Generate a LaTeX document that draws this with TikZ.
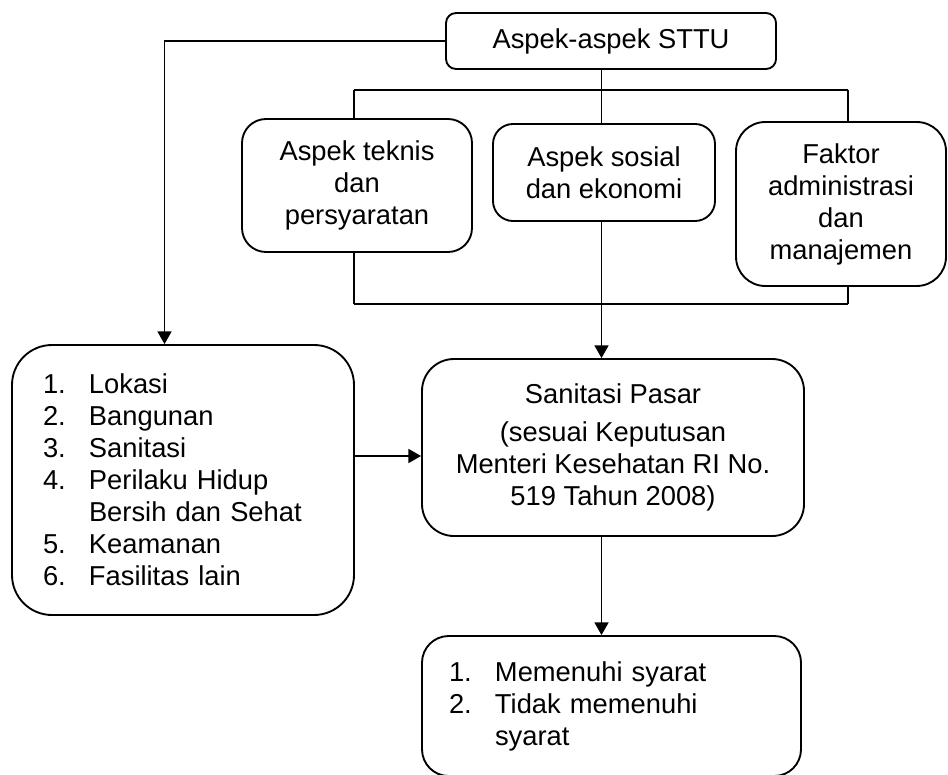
\documentclass[tikz,border=0pt]{standalone}
\usepackage{fontspec}
\setmainfont{Liberation Sans}
\usetikzlibrary{arrows.meta}
\newcommand\nomor[1]{\makebox[34.5pt][l]{#1}}
\begin{document}
\begin{tikzpicture}[x=0.75pt,y=-0.75pt,line cap=butt,line join=miter,
		font=\fontsize{20.5pt}{24pt}\selectfont]
			\tikzset{kotak/.style={draw,line width=1.4pt,rounded corners=#1,inner sep=0pt},
				kotak/.default=18pt,
				garis/.style={line width=1.1pt},
				panahan/.style={garis,-{Triangle[length=9.5pt,width=10.5pt]}}}
			\useasboundingbox (0,0) rectangle (948,774);
			\node[kotak=7.5pt,minimum width=247.5pt,minimum height=42pt] (sttu) at (611,41) {Aspek-aspek STTU};
			\node[kotak,minimum width=172.5pt,minimum height=99.75pt,align=center] (teknis) at (357,185.5) {Aspek teknis\\dan\\persyaratan};
			\node[kotak=15pt,minimum width=166.5pt,minimum height=72.75pt,align=center] (sosial) at (604,172.5) {Aspek sosial\\dan ekonomi};
			\node[kotak=22pt,minimum width=157.5pt,minimum height=123pt,align=center] (faktor) at (841,204) {Faktor\\administrasi\\dan\\manajemen};
			\node[kotak=30pt,minimum height=202.5pt,text width=210pt,inner xsep=23.25pt,align=left] (daftar) at (183,480)
				{\nomor{1.}Lokasi\\\nomor{2.}Bangunan\\\nomor{3.}Sanitasi\\\nomor{4.}Perilaku Hidup\\\nomor{}Bersih dan Sehat\\\nomor{5.}Keamanan\\\nomor{6.}Fasilitas lain};
			\node[kotak=24pt,minimum width=286.5pt,minimum height=132.75pt,align=center] (sanitasi) at (613,447.5)
				{Sanitasi Pasar\\[4.5pt](sesuai Keputusan\\Menteri Kesehatan RI No.\\519 Tahun 2008)};
			\node[kotak=20pt,minimum height=105pt,text width=243.75pt,inner xsep=20.25pt,align=left] (hasil) at (611.5,706)
				{\nomor{1.}Memenuhi syarat\\\nomor{2.}Tidak memenuhi\\\nomor{}syarat};
			\coordinate (tengah) at (601.5,0);
			\coordinate (pojok) at (164.5,0);
			\coordinate (panah) at (0,456);
			\coordinate (busA) at (354,90);
			\coordinate (busB) at (848,90);
			\coordinate (busC) at (354,304);
			\coordinate (busD) at (848,304);
			\draw[panahan] (sttu.west) -| (daftar.north -| pojok);
			\draw[garis] (sttu.south -| tengah) -- (sosial.north -| tengah);
			\draw[garis] (busA) -- (busB);
			\draw[garis] (busA) -- (busA |- teknis.north);
			\draw[garis] (busB) -- (busB |- faktor.north);
			\draw[garis] (busC) -- (busD);
			\draw[garis] (busC) -- (busC |- teknis.south);
			\draw[garis] (busD) -- (busD |- faktor.south);
			\draw[panahan] (sosial.south -| tengah) -- (sanitasi.north -| tengah);
			\draw[panahan] (daftar.east |- panah) -- (sanitasi.west |- panah);
			\draw[panahan] (sanitasi.south -| tengah) -- (hasil.north -| tengah);
		\end{tikzpicture}
\end{document}
